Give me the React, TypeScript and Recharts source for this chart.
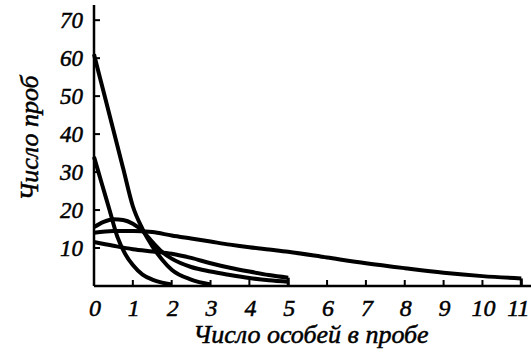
import React from "react";
import { LineChart, Line, XAxis, YAxis } from "recharts";

const xTicks = [0, 1, 2, 3, 4, 5, 6, 7, 8, 9, 10, 11];
const yTicks = [10, 20, 30, 40, 50, 60, 70];

const curveA = [
  { x: 0, y: 61 }, { x: 0.25, y: 51 }, { x: 0.5, y: 41 }, { x: 0.75, y: 31 },
  { x: 1, y: 21 }, { x: 1.25, y: 15 }, { x: 1.5, y: 10.5 }, { x: 1.75, y: 7 },
  { x: 2, y: 4.3 }, { x: 2.5, y: 1.7 }, { x: 3, y: 0.4 },
];
const curveB = [
  { x: 0, y: 34 }, { x: 0.2, y: 27 }, { x: 0.4, y: 20 }, { x: 0.6, y: 13 },
  { x: 0.8, y: 8.5 }, { x: 1, y: 5.5 }, { x: 1.25, y: 3 }, { x: 1.5, y: 1.7 },
  { x: 1.75, y: 0.9 }, { x: 2, y: 0.4 },
];
const curveC = [
  { x: 0, y: 15.5 }, { x: 0.25, y: 16.9 }, { x: 0.5, y: 17.6 }, { x: 0.75, y: 17.4 },
  { x: 1, y: 16.4 }, { x: 1.25, y: 14.5 }, { x: 1.5, y: 11.6 }, { x: 1.75, y: 9 },
  { x: 2, y: 7.2 }, { x: 2.5, y: 5 }, { x: 3, y: 3.8 }, { x: 3.5, y: 2.9 },
  { x: 4, y: 2.1 }, { x: 4.5, y: 1.5 }, { x: 5, y: 1.1 },
];
const curveD = [
  { x: 0, y: 11.6 }, { x: 0.5, y: 10.6 }, { x: 1, y: 9.7 }, { x: 1.5, y: 9.1 },
  { x: 2, y: 8.5 }, { x: 2.5, y: 7.4 }, { x: 3, y: 6 }, { x: 3.5, y: 4.8 },
  { x: 4, y: 3.8 }, { x: 4.5, y: 2.9 }, { x: 5, y: 2.2 },
];
const curveE = [
  { x: 0, y: 14 }, { x: 0.5, y: 14.5 }, { x: 1, y: 14.5 }, { x: 1.5, y: 14.2 },
  { x: 2, y: 13.3 }, { x: 2.5, y: 12.5 }, { x: 3, y: 11.7 }, { x: 3.5, y: 10.9 },
  { x: 4, y: 10.2 }, { x: 4.5, y: 9.6 }, { x: 5, y: 9 }, { x: 6, y: 7.5 },
  { x: 7, y: 6 }, { x: 8, y: 4.7 }, { x: 9, y: 3.5 }, { x: 10, y: 2.6 }, { x: 11, y: 2 },
];
const dropD = [{ x: 5, y: 2.2 }, { x: 5, y: 0 }];
const dropE = [{ x: 11, y: 2 }, { x: 11, y: 0 }];

const FONT = "Liberation Serif";
const textStyle = (size: number) => ({ fontFamily: FONT, fontStyle: "italic", fontSize: size });

const YTick = (props: any) => {
  const { x, y, payload } = props;
  return (
    <g>
      <line x1={x} x2={x + 6} y1={y} y2={y} stroke="#000" strokeWidth={2} />
      <text x={x - 11} y={y + 8} textAnchor="end" style={textStyle(23)} fill="#000" stroke="#000" strokeWidth={0.5}>
        {payload.value}
      </text>
    </g>
  );
};

const XTick = (props: any) => {
  const { x, y, payload } = props;
  return (
    <g>
      {payload.value !== 0 && (
        <line x1={x} x2={x} y1={y} y2={y - 6} stroke="#000" strokeWidth={2} />
      )}
      <text x={payload.value === 11 ? x - 3 : x + 1} y={y + 30} textAnchor="middle" style={textStyle(24)} fill="#000" stroke="#000" strokeWidth={0.5}>
        {payload.value}
      </text>
    </g>
  );
};

const series = [curveA, curveB, curveC, curveD, curveE];

export default function App() {
  return (
    <div style={{ position: "absolute", left: 0, top: 0, background: "#fff" }}>
      <LineChart width={531} height={356} margin={{ top: 5, right: 0, left: 0, bottom: 0 }}>
        <XAxis
          type="number"
          dataKey="x"
          domain={[0, 11.25]}
          ticks={xTicks}
          interval={0}
          tickSize={0}
          tickMargin={0}
          tick={<XTick />}
          height={70}
          axisLine={{ stroke: "#000", strokeWidth: 2.5 }}
          tickLine={false}
        />
        <YAxis
          type="number"
          dataKey="y"
          domain={[0, 74]}
          ticks={yTicks}
          interval={0}
          tickSize={0}
          tickMargin={0}
          tick={<YTick />}
          width={94}
          axisLine={{ stroke: "#000", strokeWidth: 2.5 }}
          tickLine={false}
        />
        {series.map((d, i) => (
          <Line
            key={i}
            data={d}
            dataKey="y"
            type="monotone"
            stroke="#000"
            strokeWidth={4}
            dot={false}
            isAnimationActive={false}
          />
        ))}
        <Line data={dropD} dataKey="y" type="linear" stroke="#000" strokeWidth={3} dot={false} isAnimationActive={false} />
        <Line data={dropE} dataKey="y" type="linear" stroke="#000" strokeWidth={3} dot={false} isAnimationActive={false} />
        <text x={311} y={343} textAnchor="middle" style={textStyle(26)} fill="#000" stroke="#000" strokeWidth={0.5}>
          Число особей в пробе
        </text>
        <text
          x={38}
          y={138}
          transform="rotate(-90 38 138)"
          textAnchor="middle"
          style={textStyle(26)}
          fill="#000"
          stroke="#000"
          strokeWidth={0.5}
        >
          Число проб
        </text>
      </LineChart>
    </div>
  );
}
